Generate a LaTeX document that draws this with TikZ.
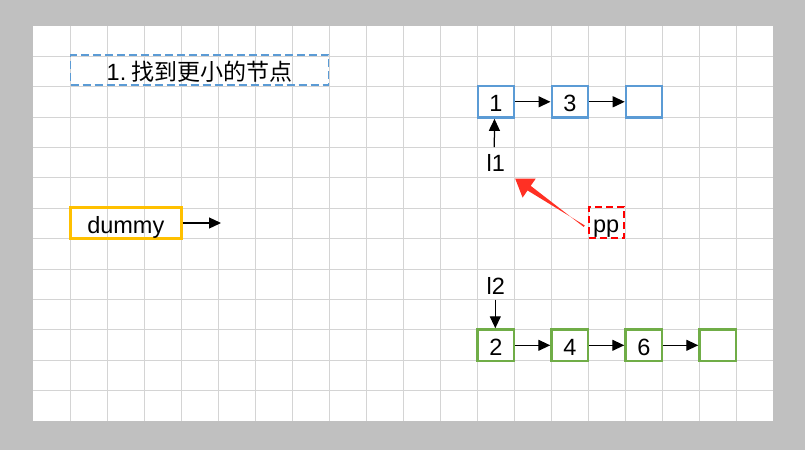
\documentclass[tikz,border=0pt]{standalone}
\usepackage{fontspec}
\setmainfont{Liberation Sans}
\newfontfamily\cjk{Noto Sans CJK SC}
\usetikzlibrary{arrows.meta,calc}
\definecolor{outergray}{RGB}{192,192,192}
\definecolor{gridc}{RGB}{212,212,212}
\definecolor{bluec}{RGB}{91,155,213}
\definecolor{greenc}{RGB}{112,173,71}
\definecolor{orangec}{RGB}{255,192,0}
\definecolor{redc}{RGB}{255,0,0}
\definecolor{redarrow}{RGB}{255,48,36}
\begin{document}
\begin{tikzpicture}[x=1pt,y=-1pt,
  every node/.style={font=\fontsize{23.5}{28}\selectfont, inner sep=0pt, text height=20pt, text depth=0pt},
  gridline/.style={draw=gridc, line width=1pt},
  bluebox/.style={draw=bluec, line width=2.6pt, minimum width=36pt, minimum height=31.5pt},
  greenbox/.style={draw=greenc, line width=2.6pt, minimum width=36.5pt, minimum height=31.5pt},
  link/.style={line width=1.25pt, -{Triangle[length=12pt,width=11pt]}}
]
\useasboundingbox (0,0) rectangle (805,450);
\fill[outergray] (0,0) rectangle (805,450);
\fill[white] (33.3,26) rectangle (773,421);
\foreach \i in {1,...,19} {\draw[gridline] (33.3+37*\i,26) -- (33.3+37*\i,421);}
\foreach \j in {1,...,12} {\draw[gridline] (33.3,26+30.385*\j) -- (773,26+30.385*\j);}

% title
\node[draw=bluec, dashed, dash pattern=on 8pt off 4pt, line width=1.9pt,
      minimum width=258pt, minimum height=30pt] (title) at (199.5,70)
      {1.\kern5pt{\cjk\fontsize{23}{28}\selectfont 找到更小的节点}};

% dummy
\node[draw=orangec, line width=2.6pt, minimum width=111pt, minimum height=30.5pt] (dummy) at (125.8,223) {dummy};
\coordinate (dummyend) at (221,223);
\draw[link] (dummy.east) -- (dummyend);

% blue list
\node[bluebox] (b1) at (496,101.8) {1};
\node[bluebox] (b3) at (569.8,101.8) {3};
\node[bluebox] (b0) at (644,101.8) {};
\draw[link] (b1) -- (b3);
\draw[link] (b3) -- (b0);

\node (l1) at (495.8,161.7) {l1};
\draw[link] ($(l1.north)+(-1.5,-4.4)$) -- ($(b1.south)+(-1.5,0)$);

% pp
\node[draw=redc, dashed, dash pattern=on 7pt off 4pt, line width=1.9pt,
      minimum width=35pt, minimum height=31pt] (pp) at (606.2,222.7) {pp};

% red arrow
\coordinate (rtail) at ($(pp.west)+(-3.5,3.5)$);
\coordinate (rtip) at ($(l1.south east)+(10,6.6)$);
\coordinate (rbase) at ($(rtip)!17pt!(rtail)$);
\fill[redarrow] ($(rtail)!0.9pt!90:(rtip)$)
  -- ($(rbase)!2.8pt!-90:(rtip)$)
  -- ($(rbase)!11.5pt!-90:(rtip)$)
  -- (rtip)
  -- ($(rbase)!11.5pt!90:(rtip)$)
  -- ($(rbase)!2.8pt!90:(rtip)$)
  -- ($(rtail)!0.9pt!-90:(rtip)$) -- cycle;

% green list
\node[greenbox] (g2) at (495.8,345.3) {2};
\node[greenbox] (g4) at (569.8,345.3) {4};
\node[greenbox] (g6) at (643.8,345.3) {6};
\node[greenbox] (g0) at (717.8,345.3) {};
\draw[link] (g2) -- (g4);
\draw[link] (g4) -- (g6);
\draw[link] (g6) -- (g0);

\node (l2) at (495.8,284) {l2};
\draw[link] ($(l2.south)+(-0.5,5.3)$) -- ($(g2.north)+(-0.5,0)$);
\end{tikzpicture}
\end{document}
